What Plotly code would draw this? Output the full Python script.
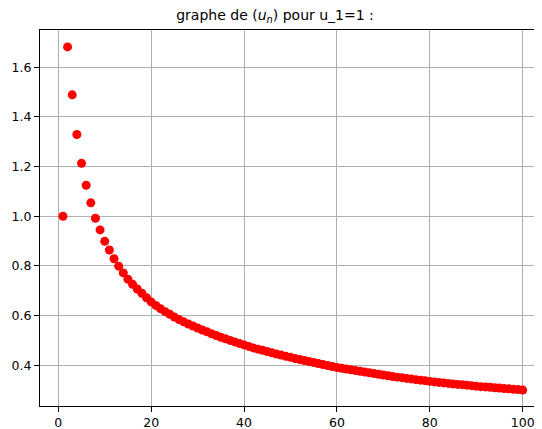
import plotly.graph_objects as go

n_values = list(range(1, 101))
u_values = [
    1.000, 1.682, 1.489, 1.329, 1.213, 1.125, 1.054, 0.992, 0.945, 0.899,
    0.864, 0.829, 0.799, 0.772, 0.746, 0.726, 0.707, 0.690, 0.672, 0.655,
    0.641, 0.628, 0.616, 0.605, 0.594, 0.584, 0.575, 0.566, 0.558, 0.550,
    0.542, 0.535, 0.527, 0.520, 0.513, 0.507, 0.500, 0.494, 0.488, 0.482,
    0.476, 0.470, 0.465, 0.460, 0.455, 0.450, 0.445, 0.441, 0.436, 0.432,
    0.427, 0.423, 0.419, 0.415, 0.411, 0.407, 0.403, 0.399, 0.395, 0.391,
    0.388, 0.385, 0.382, 0.379, 0.376, 0.373, 0.370, 0.367, 0.364, 0.361,
    0.358, 0.355, 0.352, 0.350, 0.347, 0.345, 0.342, 0.340, 0.338, 0.335,
    0.333, 0.331, 0.329, 0.327, 0.325, 0.323, 0.322, 0.320, 0.318, 0.316,
    0.314, 0.313, 0.311, 0.309, 0.308, 0.306, 0.305, 0.303, 0.302, 0.300,
]
x_ticks = [0, 20, 40, 60, 80, 100]
y_ticks = [0.4, 0.6, 0.8, 1.0, 1.2, 1.4, 1.6]
y_tick_labels = ["0.4", "0.6", "0.8", "1.0", "1.2", "1.4", "1.6"]
title_text = "graphe de (<i>u</i><sub><i>n</i></sub>) pour u_1=1 :"

fig = go.Figure()
fig.add_trace(go.Scatter(
    x=n_values, y=u_values, mode="markers",
    marker=dict(color="red", size=9, line=dict(width=0)),
    showlegend=False,
))

font_family = "DejaVu Sans"
fig.update_layout(
    width=534, height=421,
    margin=dict(l=32, r=0, t=22, b=23, autoexpand=False),
    paper_bgcolor="white", plot_bgcolor="white",
    font=dict(family=font_family, size=12.5, color="black"),
    title=dict(text=title_text, x=0.5, xanchor="center", y=0.983, yanchor="middle",
               font=dict(family=font_family, size=14, color="black")),
)
fig.update_xaxes(
    range=[-3.94, 104.16], tickmode="array", tickvals=x_ticks,
    showgrid=True, gridcolor="#b0b0b0", gridwidth=1,
    showline=True, linecolor="black", linewidth=1, mirror=True,
    ticks="outside", ticklen=5, tickcolor="black", tickwidth=1,
    zeroline=False, automargin=False,
)
fig.update_yaxes(
    range=[0.236, 1.750], tickmode="array", tickvals=y_ticks, ticktext=y_tick_labels,
    showgrid=True, gridcolor="#b0b0b0", gridwidth=1,
    showline=True, linecolor="black", linewidth=1, mirror=True,
    ticks="outside", ticklen=5, tickcolor="black", tickwidth=1,
    zeroline=False, automargin=False,
)
fig.write_html("out.html")
